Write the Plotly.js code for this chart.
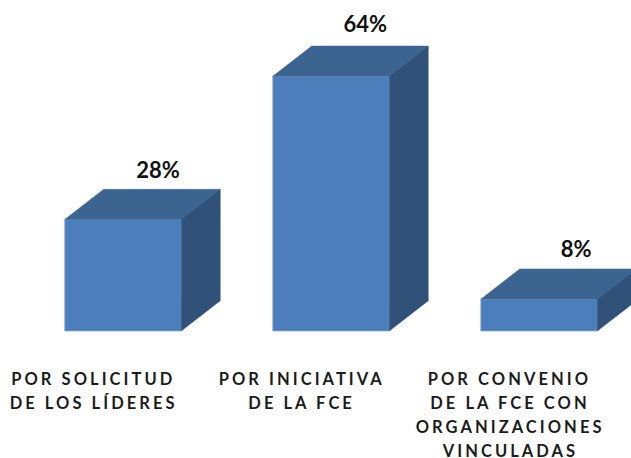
<!DOCTYPE html>
<html>
<head>
<meta charset="utf-8">
<script src="https://cdn.plot.ly/plotly-3.0.1.min.js"></script>
<style>
html,body{margin:0;padding:0;background:#fff}
#chart{width:631px;height:458px}
#chart .annotation-text{letter-spacing:3.05px}
</style>
</head>
<body>
<div id="chart"></div>
<script>
var categoryLines = [
  ["POR SOLICITUD", "DE LOS LÍDERES"],
  ["POR INICIATIVA", "DE LA FCE"],
  ["POR CONVENIO", "DE LA FCE CON", "ORGANIZACIONES", "VINCULADAS"]
];
var positions = [0, 1, 2];
var percentages = [28, 64, 8];
var valueLabels = ["28%", "64%", "8%"];
var labelGaps = [11.9, 12.6, 11.9];
var labelShifts = [0.168, 0.165, 0.178];

var barWidth = 0.56;
var depthX = 0.1875;
var depthY = 7.6;
var frontColor = "#4b7eba";
var topColor = "#3c6491";
var sideColor = "#305279";
var fontName = "Lato, 'Open Sans', sans-serif";

var traces = [{
  type: "bar",
  x: positions,
  y: percentages,
  width: barWidth,
  marker: {color: frontColor, line: {color: "#8fb0d6", width: 0.8}},
  hoverinfo: "skip",
  showlegend: false
}];

positions.forEach(function (p, i) {
  var v = percentages[i];
  var l = p - barWidth / 2;
  var r = p + barWidth / 2;
  traces.push({
    type: "scatter", mode: "lines", fill: "toself", fillcolor: topColor,
    x: [l, l + depthX, r + depthX, r, l],
    y: [v, v + depthY, v + depthY, v, v],
    line: {color: topColor, width: 0.5},
    hoverinfo: "skip", showlegend: false
  });
  traces.push({
    type: "scatter", mode: "lines", fill: "toself", fillcolor: sideColor,
    x: [r, r + depthX, r + depthX, r, r],
    y: [0, depthY, v + depthY, v, 0],
    line: {color: sideColor, width: 0.5},
    hoverinfo: "skip", showlegend: false
  });
});

traces.push({
  type: "scatter", mode: "text",
  x: positions.map(function (p, i) { return p + labelShifts[i]; }),
  y: percentages.map(function (v, i) { return v + labelGaps[i]; }),
  text: valueLabels,
  textposition: "middle center",
  textfont: {family: fontName, size: 22, color: "#111111", weight: 700},
  cliponaxis: false,
  hoverinfo: "skip", showlegend: false
});

var annotations = [];
var lineStart = -12.1;
var lineStep = -6.05;
var labelShift = -0.14;
categoryLines.forEach(function (lines, i) {
  lines.forEach(function (txt, j) {
    annotations.push({
      x: positions[i] + labelShift,
      y: lineStart + j * lineStep,
      xref: "x", yref: "y",
      text: "<b>" + txt + "</b>",
      showarrow: false,
      xanchor: "center", yanchor: "middle",
      font: {family: fontName, size: 16.5, color: "#1c1c1c"}
    });
  });
});

var layout = {
  width: 631, height: 458,
  margin: {l: 0, r: 0, t: 0, b: 0},
  paper_bgcolor: "#ffffff", plot_bgcolor: "#ffffff",
  bargap: 0,
  xaxis: {range: [-0.591, 2.442], visible: false, fixedrange: true},
  yaxis: {range: [-31.9, 83.17], visible: false, fixedrange: true},
  annotations: annotations,
  showlegend: false
};

Plotly.newPlot("chart", traces, layout, {displayModeBar: false, staticPlot: true});
</script>
</body>
</html>
